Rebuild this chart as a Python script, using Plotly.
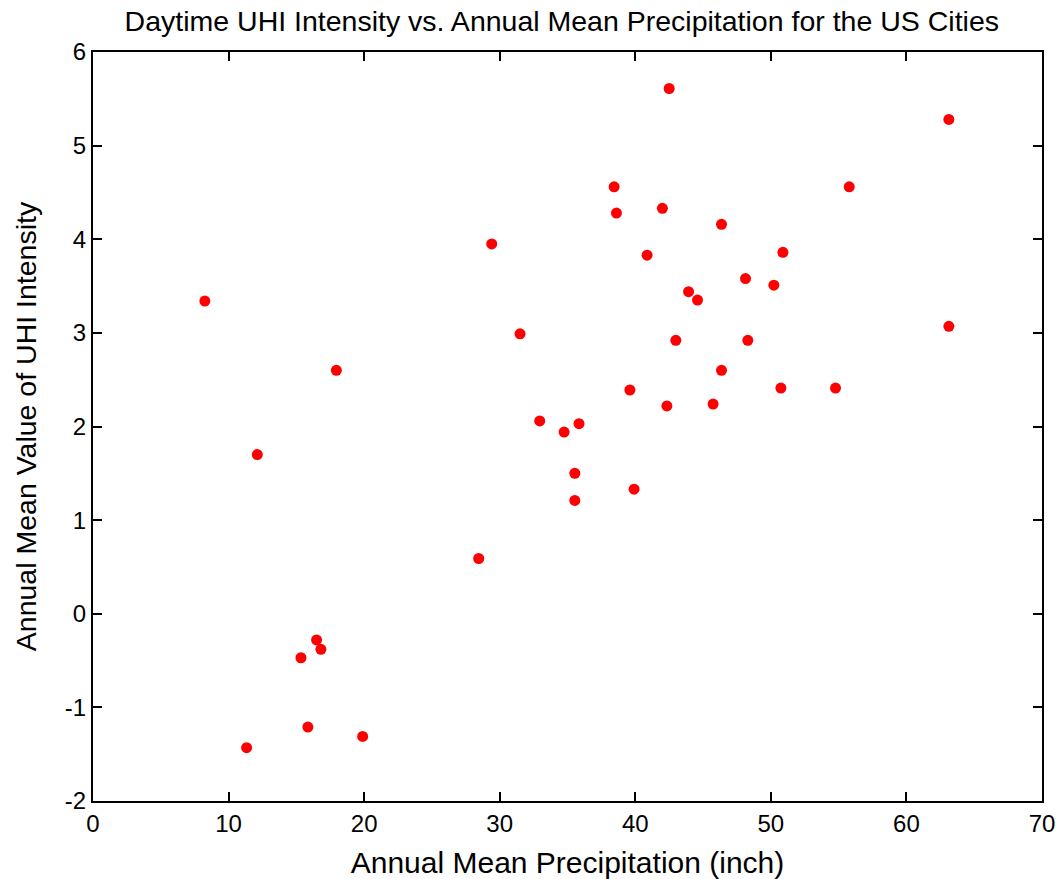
import plotly.graph_objects as go

precip = [8.25, 12.12, 17.95, 42.5, 38.44, 38.61, 42.0, 46.36, 29.41, 40.87, 50.89,
          48.13, 50.22, 43.93, 44.59, 31.5, 42.99, 48.3, 55.78, 46.36, 39.6, 50.74,
          54.77, 42.33, 45.74, 32.95, 34.75, 35.85, 35.54, 35.54, 39.91, 28.45,
          16.49, 16.81, 15.34, 15.85, 19.89, 11.33, 63.13, 63.13]
uhi = [3.34, 1.70, 2.60, 5.61, 4.56, 4.28, 4.33, 4.16, 3.95, 3.83, 3.86,
       3.58, 3.51, 3.44, 3.35, 2.99, 2.92, 2.92, 4.56, 2.60, 2.39, 2.41,
       2.41, 2.22, 2.24, 2.06, 1.94, 2.03, 1.50, 1.21, 1.33, 0.59,
       -0.28, -0.38, -0.47, -1.21, -1.31, -1.43, 5.28, 3.07]

x_ticks = [0, 10, 20, 30, 40, 50, 60, 70]
y_ticks = [-2, -1, 0, 1, 2, 3, 4, 5, 6]

fig = go.Figure()
fig.add_trace(go.Scatter(x=precip, y=uhi, mode="markers",
                         marker=dict(color="#ff0000", size=11, line=dict(width=0)),
                         cliponaxis=False, showlegend=False))

font = "Arial, Liberation Sans, sans-serif"
axis_common = dict(showgrid=False, zeroline=False, showline=True, linecolor="black",
                   linewidth=2, mirror="ticks", ticks="inside", ticklen=9,
                   tickwidth=1.5, tickcolor="black", automargin=False,
                   tickfont=dict(family=font, size=24, color="black"))
fig.update_layout(
    width=1060, height=879,
    margin=dict(l=93, r=18, t=52, b=78),
    paper_bgcolor="white", plot_bgcolor="white",
    title=dict(text="Daytime UHI Intensity vs. Annual Mean Precipitation for the US Cities",
               x=0.530, xanchor="center", y=1 - 21 / 879, yanchor="middle",
               font=dict(family=font, size=28.5, color="black")),
    xaxis=dict(range=[0, 70], tickvals=x_ticks, ticktext=[str(v) for v in x_ticks],
               title=dict(text="Annual Mean Precipitation (inch)", standoff=16,
                          font=dict(family=font, size=30, color="black")),
               **axis_common),
    yaxis=dict(range=[-2, 6], tickvals=y_ticks, ticktext=[str(v) for v in y_ticks],
               title=dict(text="Annual Mean Value of UHI Intensity", standoff=20,
                          font=dict(family=font, size=28.5, color="black")),
               **axis_common),
)
fig.write_html("out.html")
